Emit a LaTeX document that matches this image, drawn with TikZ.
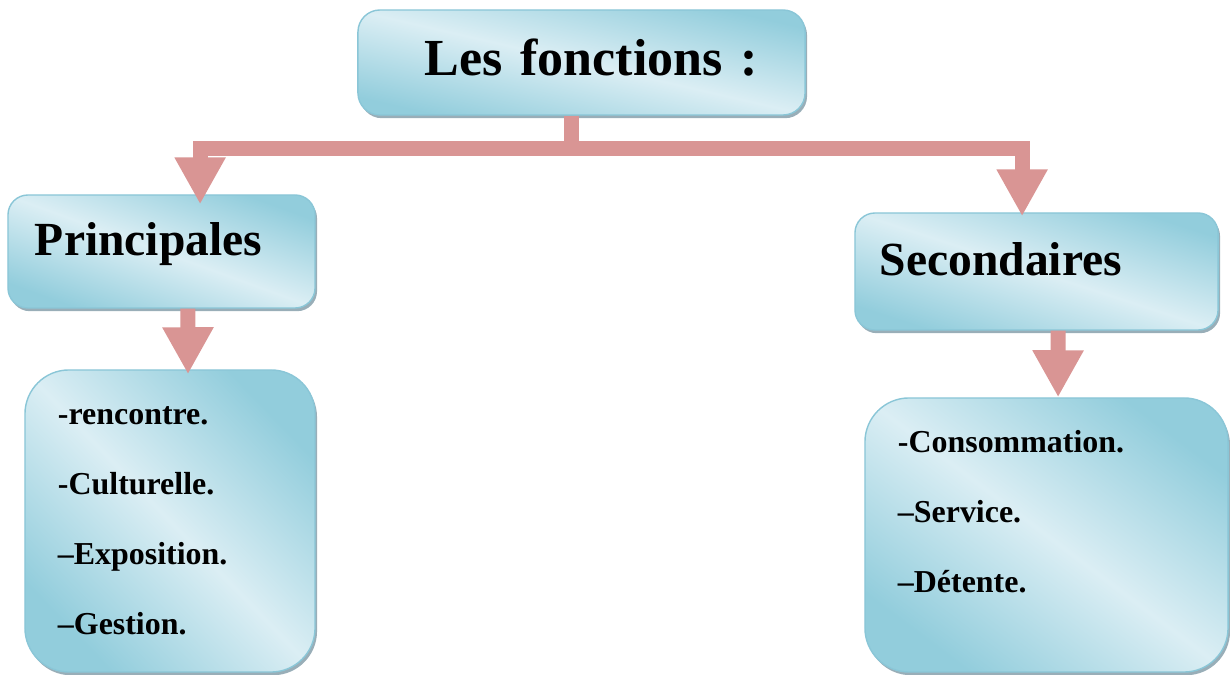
\documentclass[tikz,border=0pt]{standalone}
\usepackage{fontspec}
\setmainfont{Liberation Serif}
\usepackage{tikz}
\usetikzlibrary{arrows.meta, positioning, shadows}
\definecolor{aquaDark}{HTML}{92CDDC}
\definecolor{aquaLight}{HTML}{DBEEF4}
\definecolor{aquaLine}{HTML}{8AC6D7}
\definecolor{shadowGrey}{HTML}{7F9AA6}
\definecolor{linkRed}{HTML}{D99594}
\tikzset{
  box/.style={draw=aquaLine, line width=1pt, rounded corners=#1,
    left color=aquaDark, right color=aquaDark, middle color=aquaLight,
    shading angle=-45,
    drop shadow={shadow xshift=0.05cm, shadow yshift=-0.08cm,
      fill=shadowGrey, opacity=0.8}},
  box/.default=0.5cm,
  title/.style={font=\fontsize{37}{44}\selectfont\bfseries, align=left,
    text width=7.825cm, inner xsep=1.675cm, text depth=0.25cm},
  head/.style={font=\fontsize{33.8}{40}\selectfont\bfseries, align=left,
    text depth=0.6cm},
  items/.style={font=\fontsize{22.7}{49.8}\selectfont\bfseries, align=left,
    inner xsep=0.825cm},
  link/.style={draw=linkRed, line width=0.375cm}
}
\begin{document}
\begin{tikzpicture}[
    x=0.025cm, y=-0.025cm,
    >={Triangle[length=1.175cm, width=1.2cm]}
]
\useasboundingbox (0,0) rectangle (1230,675);

% boxes
\node[box=0.55cm, title, minimum height=2.625cm, shading angle=-13]
  (fonctions) at (581.5,62.5) {\mbox{Les fonctions :}};
\node[box, head, text width=6.325cm, inner xsep=0.675cm, minimum height=2.825cm,
  shading angle=-20]
  (principales) at (161.5,251.5) {Principales};
\node[box, head, text width=7.825cm, inner xsep=0.625cm, minimum height=2.925cm,
  shading angle=-18]
  (secondaires) at (1036.5,271.5) {Secondaires};
\node[box=1.1cm, items, text width=5.6cm, minimum height=7.55cm, shading angle=-46]
  (listeP) at (170,521)
  {-rencontre.\\-Culturelle.\\–Exposition.\\–Gestion.};
\node[box=1.1cm, items, text width=7.425cm, minimum height=6.85cm, text depth=4.7cm,
  shading angle=-37]
  (listeS) at (1046.5,535)
  {-Consommation.\\–Service.\\–Détente.};

% connectors
\draw[link] ([xshift=-0.24cm]fonctions.south) -- ++(0,32.5) coordinate (bar);
\draw[link,->] (bar) -| ([xshift=0.965cm, yshift=-0.25cm]principales.north);
\draw[link,->] (bar) -| ([xshift=-0.36cm, yshift=-0.1cm]secondaires.north);
\draw[link,->] ([xshift=0.66cm]principales.south)
  -- ([xshift=0.45cm, yshift=-0.125cm]listeP.north);
\draw[link,->] ([xshift=0.54cm]secondaires.south)
  -- ([xshift=0.29cm]listeS.north);
\end{tikzpicture}
\end{document}
